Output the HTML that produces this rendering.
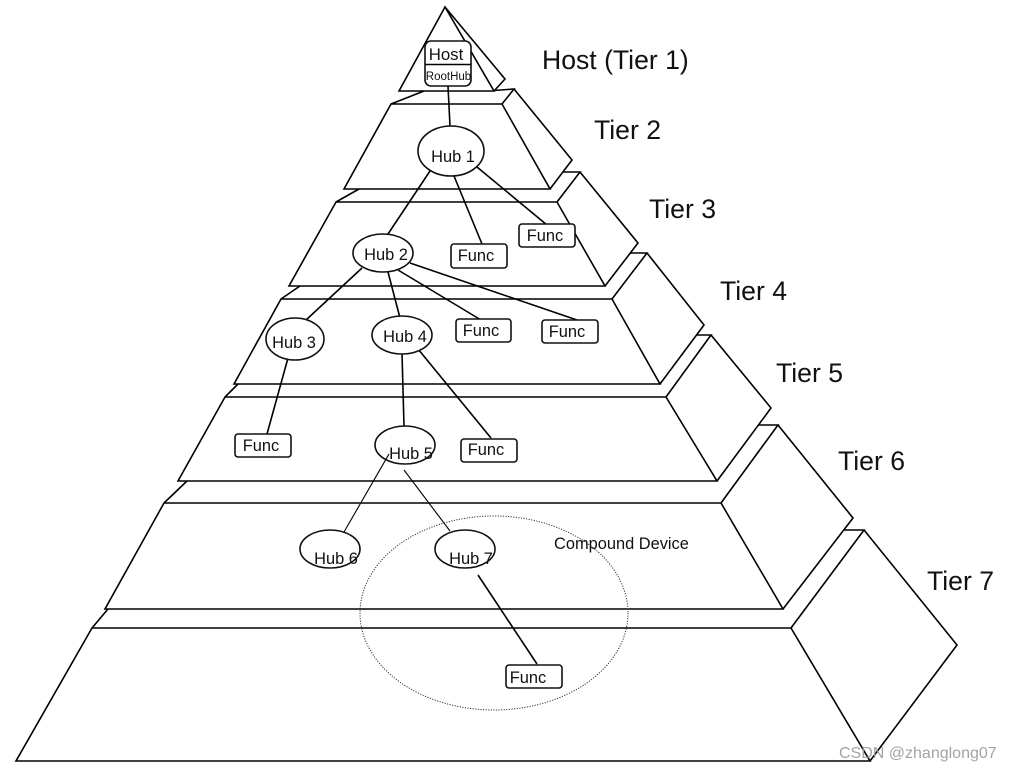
<!DOCTYPE html>
<html>
<head>
<meta charset="utf-8">
<style>
html,body{margin:0;padding:0;background:#fff;width:1011px;height:771px;overflow:hidden}
svg{display:block}
text{font-family:"Liberation Sans",sans-serif;fill:#111}
.l{fill:none;stroke:#000;stroke-width:1.6;stroke-linejoin:miter}
.th{fill:none;stroke:#000;stroke-width:1.1}
.t{font-size:26.600px}
.s{font-size:16.400px}
.b{fill:#fff;stroke:#111;stroke-width:1.6}
</style>
</head>
<body>
<svg width="1011" height="771" viewBox="0 0 1011 771" xmlns="http://www.w3.org/2000/svg">
<!-- Tier 1 -->
<path class="l" d="M445 7L399 91H494ZM445 7L505 79L494 91"/>
<!-- Tier 2 -->
<path class="l" d="M391 104H502L550 189H344ZM391 104L424 91M494 90.500L514 89L502 104M514 89L572 160L550 189"/>
<!-- Tier 3 -->
<path class="l" d="M336 202H557L605 286H289ZM336 202L359 189M563 172H580L557 202M580 172L638 243L605 286"/>
<!-- Tier 4 -->
<path class="l" d="M281 299H612L660 384H234ZM281 299L300 286M630 253H647L612 299M647 253L704 325L660 384"/>
<!-- Tier 5 -->
<path class="l" d="M225 397H666L717 481H178ZM225 397L238 384M696 335H711L666 397M711 335L771 408L717 481"/>
<!-- Tier 6 -->
<path class="l" d="M164 503H721L783 609H105ZM164 503L187 481M758 425H778L721 503M778 425L853 518L783 609"/>
<!-- Tier 7 -->
<path class="l" d="M92 628H791L870 761H16ZM92 628L108 609M844 530H864L791 628M864 530L957 645L870 761"/>
<!-- Dotted compound -->
<ellipse cx="494" cy="613" rx="134" ry="97" fill="none" stroke="#333" stroke-width="1" stroke-dasharray="1.2 1.4"/>
<!-- Connectors -->
<path class="l" d="M448 86L450 126M430 171L388 234M454 176L482 244M477 167L547 225M362 268L306 320M388 272L400 318M398 270L481 320M410 263L577 320M288 358L267 434M402 353L404 426M418 349L491 438M478 575L537 664"/>
<!-- Host box -->
<rect x="425" y="41" width="46" height="45" rx="6" class="b"/>
<path class="l" d="M425 64.500H471"/>
<text x="446" y="60" text-anchor="middle" style="font-size:16.800px">Host</text>
<text x="448.500" y="80" text-anchor="middle" style="font-size:11.500px">RootHub</text>
<!-- Hubs -->
<ellipse cx="451" cy="151" rx="33" ry="25" class="b"/>
<text x="453" y="162" text-anchor="middle" class="s">Hub 1</text>
<ellipse cx="383" cy="253" rx="30" ry="19" class="b"/>
<text x="386" y="260" text-anchor="middle" class="s">Hub 2</text>
<ellipse cx="295" cy="339" rx="29" ry="21" class="b"/>
<text x="294" y="348" text-anchor="middle" class="s">Hub 3</text>
<ellipse cx="402" cy="335" rx="30" ry="19" class="b"/>
<text x="405" y="342" text-anchor="middle" class="s">Hub 4</text>
<ellipse cx="405" cy="445" rx="30" ry="19" class="b"/>
<text x="411" y="459" text-anchor="middle" class="s">Hub 5</text>
<ellipse cx="330" cy="549" rx="30" ry="19" class="b"/>
<text x="336" y="564" text-anchor="middle" class="s">Hub 6</text>
<ellipse cx="465" cy="549" rx="30" ry="19" class="b"/>
<text x="471" y="564" text-anchor="middle" class="s">Hub 7</text>
<path class="th" d="M389 454L344 532M404 470L450 531"/>
<!-- Func boxes -->
<g>
<rect x="519" y="224" width="56" height="23" rx="3" class="b"/><text x="545" y="241" text-anchor="middle" class="s">Func</text>
<rect x="451" y="244" width="56" height="24" rx="3" class="b"/><text x="476" y="261" text-anchor="middle" class="s">Func</text>
<rect x="456" y="319" width="55" height="23" rx="3" class="b"/><text x="481" y="336" text-anchor="middle" class="s">Func</text>
<rect x="542" y="320" width="56" height="23" rx="3" class="b"/><text x="567" y="337" text-anchor="middle" class="s">Func</text>
<rect x="235" y="434" width="56" height="23" rx="3" class="b"/><text x="261" y="451" text-anchor="middle" class="s">Func</text>
<rect x="461" y="439" width="56" height="23" rx="3" class="b"/><text x="486" y="455" text-anchor="middle" class="s">Func</text>
<rect x="506" y="665" width="56" height="23" rx="3" class="b"/><text x="528" y="683" text-anchor="middle" class="s">Func</text>
</g>
<text x="554" y="549" style="font-size:16.400px">Compound Device</text>
<!-- Tier labels -->
<text x="542" y="69" class="t">Host (Tier 1)</text>
<text x="594" y="139" class="t">Tier 2</text>
<text x="649" y="218" class="t">Tier 3</text>
<text x="720" y="300" class="t">Tier 4</text>
<text x="776" y="382" class="t">Tier 5</text>
<text x="838" y="470" class="t">Tier 6</text>
<text x="927" y="590" class="t">Tier 7</text>
<text x="839" y="758" style="font-size:16px;fill:#999;fill-opacity:.9">CSDN @zhanglong07</text>
</svg>
</body>
</html>
